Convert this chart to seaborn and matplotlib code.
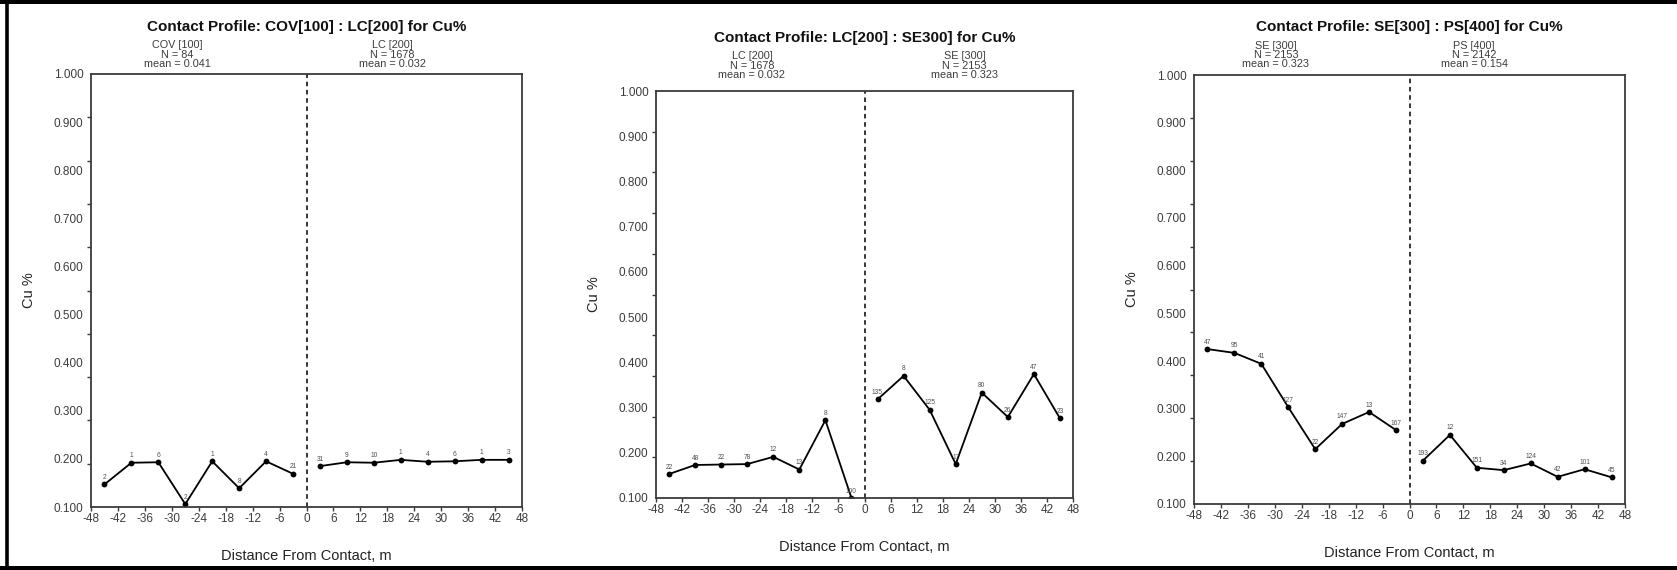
import numpy as np
import pandas as pd
import matplotlib
matplotlib.use("Agg")
import matplotlib.pyplot as plt
from matplotlib.lines import Line2D
from matplotlib.ticker import FixedLocator
import seaborn as sns

sns.set_theme(style="white")
plt.rcParams["font.family"] = ["Liberation Sans", "DejaVu Sans"]

# ---- data -------------------------------------------------------------
dist_left = [-45, -39, -33, -27, -21, -15, -9, -3]
dist_right = [3, 9, 15, 21, 27, 33, 39, 45]

titles = [
    "Contact Profile: COV[100] : LC[200] for Cu%",
    "Contact Profile: LC[200] : SE300] for Cu%",
    "Contact Profile: SE[300] : PS[400] for Cu%",
]
domains_left = ["COV [100]", "LC [200]", "SE [300]"]
domains_right = ["LC [200]", "SE [300]", "PS [400]"]
n_left = [84, 1678, 2153]
n_right = [1678, 2153, 2142]
mean_left = [0.041, 0.032, 0.323]
mean_right = [0.032, 0.323, 0.154]

# COV[100] : LC[200]
cu_p1_left = [0.147, 0.192, 0.193, 0.106, 0.195, 0.139, 0.195, 0.169]
cu_p1_right = [0.185, 0.193, 0.192, 0.198, 0.194, 0.195, 0.198, 0.198]
cnt_p1_left = ["2", "1", "6", "2", "1", "8", "4", "21"]
cnt_p1_right = ["31", "9", "10", "1", "4", "6", "1", "3"]

# LC[200] : SE[300]
cu_p2_left = [0.153, 0.173, 0.174, 0.175, 0.191, 0.163, 0.272, 0.100]
cu_p2_right = [0.318, 0.370, 0.295, 0.175, 0.333, 0.279, 0.374, 0.276]
cnt_p2_left = ["22", "48", "22", "78", "12", "13", "8", "100"]
cnt_p2_right = ["135", "8", "125", "17", "80", "26", "47", "23"]

# SE[300] : PS[400]
cu_p3_left = [0.425, 0.417, 0.394, 0.303, 0.215, 0.268, 0.293, 0.255]
cu_p3_right = [0.191, 0.245, 0.176, 0.171, 0.185, 0.157, 0.173, 0.156]
cnt_p3_left = ["47", "95", "41", "127", "22", "147", "13", "167"]
cnt_p3_right = ["193", "12", "151", "34", "124", "42", "101", "45"]

y_labels = [0.1, 0.2, 0.3, 0.4, 0.5, 0.6, 0.7, 0.8, 0.9, 1.0]
x_ticks = list(range(-48, 49, 6))

panels = [
    (cu_p1_left, cu_p1_right, cnt_p1_left, cnt_p1_right),
    (cu_p2_left, cu_p2_right, cnt_p2_left, cnt_p2_right),
    (cu_p3_left, cu_p3_right, cnt_p3_left, cnt_p3_right),
]

# ---- layout (pixels) ---------------------------------------------------
W, H = 1677, 570
fig = plt.figure(figsize=(W / 100, H / 100), dpi=100)
fig.patch.set_facecolor("white")

# left, right, top, bottom of each plot box
boxes = [(91, 522, 74, 507), (656, 1073, 91, 498), (1194, 1625, 75, 504)]
head_x = [(0.20, 0.70), (0.23, 0.74), (0.19, 0.65)]
head_off = [3.5, 8.0, 4.0]       # points above the box for the N/mean block
title_off = [34.0, 38.0, 34.5]  # points above the box for the title

spine_col = "#3a3a3a"
text_col = "#3c3c3c"

for i, (l, r, t, b) in enumerate(boxes):
    ax = fig.add_axes([l / W, 1 - b / H, (r - l) / W, (b - t) / H])
    ax.set_facecolor("white")
    cl, cr, nl, nr = panels[i]

    df_l = pd.DataFrame({"dist": dist_left, "cu": cl})
    df_r = pd.DataFrame({"dist": dist_right, "cu": cr})
    for df in (df_l, df_r):
        sns.lineplot(data=df, x="dist", y="cu", ax=ax, color="black",
                     linewidth=1.3, marker="o", markersize=4.2,
                     markeredgewidth=0, markerfacecolor="black",
                     estimator=None, sort=True, legend=False)

    # sample counts above each point
    for xs, ys, labs in ((dist_left, cl, nl), (dist_right, cr, nr)):
        for xv, yv, s in zip(xs, ys, labs):
            ax.annotate(s, (xv, yv), xytext=(0, 5), textcoords="offset points",
                        ha="center", va="center", fontsize=4.8, color="#505050")

    # contact line
    ax.axvline(0, color="black", linewidth=1.1, linestyle=(0, (3, 2.4)))

    ax.set_xlim(-48, 48)
    ax.set_ylim(0.1, 1.0)
    ax.set_xticks(x_ticks)
    ax.set_xticklabels([str(v) for v in x_ticks])
    ax.set_yticks(y_labels)
    ax.set_yticklabels([f"{v:.3f}" for v in y_labels])
    ax.yaxis.set_minor_locator(FixedLocator(np.linspace(0.1, 1.0, 11)))
    ax.tick_params(axis="y", which="major", length=0, pad=5.5,
                   labelsize=8.5, labelcolor=text_col)
    ax.tick_params(axis="y", which="minor", left=True, length=3,
                   width=1, color=spine_col, direction="out")
    ax.tick_params(axis="x", which="major", bottom=True, length=3, width=1,
                   color=spine_col, direction="out", pad=1.5,
                   labelsize=8.5, labelcolor=text_col)
    for sp in ax.spines.values():
        sp.set_visible(True)
        sp.set_color(spine_col)
        sp.set_linewidth(1.3)

    ax.set_xlabel("Distance From Contact, m", fontsize=10.5, color="#222222",
                  labelpad=17)
    ax.set_ylabel("Cu %", fontsize=10.5, color="#222222", labelpad=13)

    ax.annotate(titles[i], xy=(0.5, 1.0), xycoords="axes fraction",
                xytext=(0, title_off[i]), textcoords="offset points",
                ha="center", va="center", fontsize=11, fontweight="bold",
                color="#111111")
    for fx, dom, n, m in ((head_x[i][0], domains_left[i], n_left[i], mean_left[i]),
                          (head_x[i][1], domains_right[i], n_right[i], mean_right[i])):
        ax.annotate(f"{dom}\nN = {n}\nmean = {m:.3f}", xy=(fx, 1.0),
                    xycoords="axes fraction", xytext=(0, head_off[i]),
                    textcoords="offset points", ha="center", va="bottom",
                    multialignment="center", linespacing=0.92,
                    fontsize=7.8, color=text_col)

# outer frame: left, top and bottom edges
def px_line(x0, y0, x1, y1, w):
    fig.add_artist(Line2D([x0 / W, x1 / W], [1 - y0 / H, 1 - y1 / H],
                          transform=fig.transFigure, color="black",
                          linewidth=w * 0.72, solid_capstyle="butt"))

px_line(6.7, 0, 6.7, H, 3.6)
px_line(0, 2.0, W, 2.0, 4.0)
px_line(0, 568.0, W, 568.0, 4.0)

fig.savefig("out.png", dpi=100, facecolor="white")
